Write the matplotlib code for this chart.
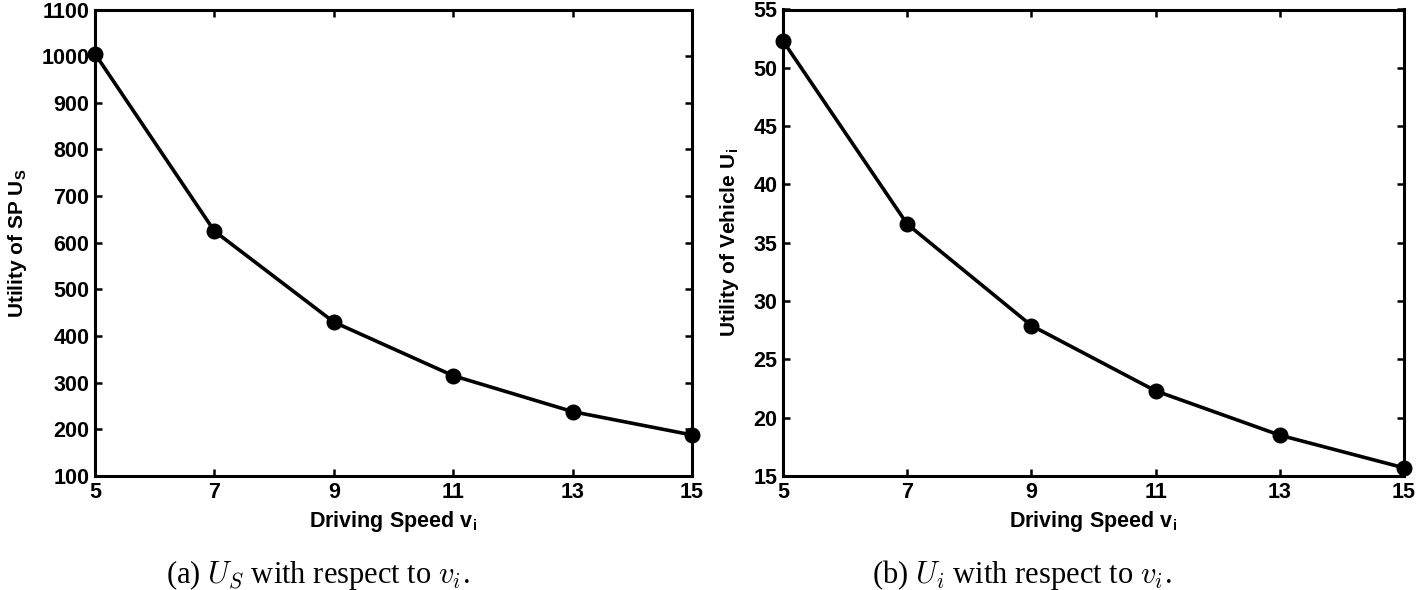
import matplotlib
matplotlib.use("Agg")
import matplotlib.pyplot as plt

speeds = [5, 7, 9, 11, 13, 15]
utility_sp = [1005, 625, 430, 315, 238, 188]
utility_vehicle = [52.3, 36.6, 27.9, 22.3, 18.5, 15.7]

plt.rcParams['font.family'] = ['Liberation Sans']
plt.rcParams['mathtext.fontset'] = 'custom'
plt.rcParams['mathtext.it'] = 'cmmi10'
plt.rcParams['mathtext.rm'] = 'Liberation Serif'
plt.rcParams['mathtext.bf'] = 'Liberation Sans:bold'

W, H = 1416, 590
fig = plt.figure(figsize=(W / 100, H / 100), dpi=100)

def box(x0, y0, x1, y1):
    return [x0 / W, 1 - y1 / H, (x1 - x0) / W, (y1 - y0) / H]

ax1 = fig.add_axes(box(95, 9.5, 692, 476))
ax2 = fig.add_axes(box(783, 9.5, 1404, 476))

def style(ax, ylim, yticks, ylabel):
    ax.set_xlim(5, 15)
    ax.set_ylim(*ylim)
    ax.set_xticks(speeds)
    ax.set_yticks(yticks)
    ax.tick_params(direction='in', top=True, right=True, length=5, width=1.8,
                   labelsize=15.5, pad=4)
    for lab in ax.get_xticklabels() + ax.get_yticklabels():
        lab.set_fontweight('bold')
    for s in ax.spines.values():
        s.set_linewidth(2.2)
    ax.set_xlabel(r'Driving Speed v$_\mathbf{i}$', fontsize=15.5, fontweight='bold', labelpad=5)
    ax.set_ylabel(ylabel, fontsize=15, fontweight='bold', labelpad=9)

ax1.plot(speeds, utility_sp, color='black', lw=2.6, marker='o', ms=10.5, clip_on=False, zorder=5)
style(ax1, (100, 1100), list(range(100, 1101, 100)), r'Utility of SP U$_\mathbf{S}$')
ax2.plot(speeds, utility_vehicle, color='black', lw=2.6, marker='o', ms=10.5, clip_on=False, zorder=5)
style(ax2, (15, 55), list(range(15, 56, 5)), r'Utility of Vehicle U$_\mathbf{i}$')

fig.text(166 / W, 1 - 583 / H, r'(a) $U_S$ with respect to $v_i$.', ha='left', va='baseline',
         fontsize=22, family='Liberation Serif')
fig.text(872 / W, 1 - 583 / H, r'(b) $U_i$ with respect to $v_i$.', ha='left', va='baseline',
         fontsize=22, family='Liberation Serif')

fig.savefig('out.png', dpi=100)
